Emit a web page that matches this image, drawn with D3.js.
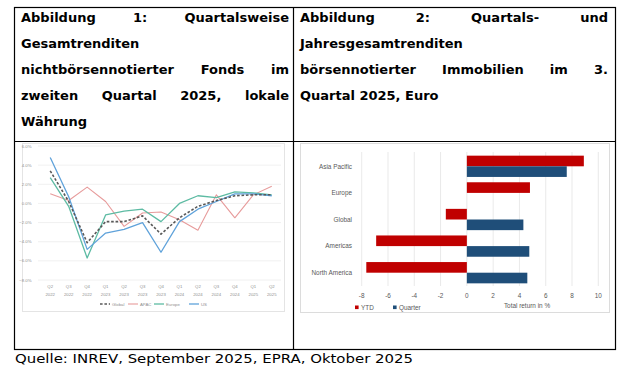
<!DOCTYPE html>
<html>
<head>
<meta charset="utf-8">
<script src="https://cdn.jsdelivr.net/npm/d3@7"></script>
<style>
    body { margin: 0; background: #fff; }
    svg { display: block; }
</style>
</head>
<body>
<svg id="page" width="633" height="371"></svg>
<script>
// figure 1: quarterly total returns, non-listed funds
const quarters = ["Q2 2022", "Q3 2022", "Q4 2022", "Q1 2023", "Q2 2023", "Q3 2023", "Q4 2023",
    "Q1 2024", "Q2 2024", "Q3 2024", "Q4 2024", "Q1 2025", "Q2 2025"];
const globalReturns = [3.4, 0.2, -4.1, -1.9, -1.9, -1.3, -3.2, -1.5, -0.3, 0.3, 0.8, 0.9, 0.9];
const apacReturns = [1.0, 0.3, 1.7, 0.2, -2.4, -1.0, -0.9, -1.7, -2.8, 0.9, -1.5, 0.9, 1.8];
const europeReturns = [2.7, -0.3, -5.7, -1.2, -0.8, -0.6, -1.9, 0.0, 0.8, 0.6, 1.2, 1.1, 0.9];
const usReturns = [4.8, 0.7, -4.8, -3.1, -2.7, -2.0, -5.1, -1.9, -0.6, 0.2, 1.0, 1.0, 0.8];
const percentTicks = [6, 4, 2, 0, -2, -4, -6, -8];

// figure 2: listed real estate, Q3 2025, EUR
const regions = ["Asia Pacific", "Europe", "Global", "Americas", "North America"];
const ytdReturns = [8.9, 4.8, -1.6, -6.9, -7.65];
const quarterReturns = [7.6, 0, 4.3, 4.75, 4.6];
const returnTicks = [-8, -6, -4, -2, 0, 2, 4, 6, 8, 10];

const titleLeft = [
    { words: ["Abbildung", "1:", "Quartalsweise"], justify: true },
    { words: ["Gesamtrenditen"], justify: false },
    { words: ["nichtbörsennotierter", "Fonds", "im"], justify: true },
    { words: ["zweiten", "Quartal", "2025,", "lokale"], justify: true },
    { words: ["Währung"], justify: false },
];
const titleRight = [
    { words: ["Abbildung", "2:", "Quartals-", "und"], justify: true },
    { words: ["Jahresgesamtrenditen"], justify: false },
    { words: ["börsennotierter", "Immobilien", "im", "3."], justify: true },
    { words: ["Quartal", "2025,", "Euro"], justify: false },
];
const sourceNote = "Quelle: INREV, September 2025, EPRA, Oktober 2025";

const svg = d3.select("#page");

// ---- table frame ----
const frame = svg.append("g")
    .attr("stroke", "#000")
    .attr("stroke-width", 1.2)
    .attr("fill", "none");
frame.append("rect").attr("x", 14.5).attr("y", 7.5).attr("width", 601).attr("height", 342);
frame.append("line").attr("x1", 293.5).attr("x2", 293.5).attr("y1", 7.5).attr("y2", 349.5);
frame.append("line").attr("x1", 14.5).attr("x2", 615.5).attr("y1", 141.5).attr("y2", 141.5);

function writeTitle (lines, x0, x1) {
    const g = svg.append("g")
        .attr("font-family", "DejaVu Sans")
        .attr("font-weight", "bold")
        .attr("font-size", 13)
        .attr("fill", "#000");

    lines.forEach((line, i) => {
        const y = 21.5 + i * 26.2;
        const nodes = line.words.map(w => g.append("text").attr("y", y).text(w));
        const widths = nodes.map(n => n.node().getComputedTextLength());
        const total = d3.sum(widths);
        let gap = 4.5;
        if (line.justify && nodes.length > 1)
            gap = (x1 - x0 - total) / (nodes.length - 1);
        let x = x0;
        nodes.forEach((n, k) => {
            n.attr("x", x);
            x += widths[k] + gap;
        });
    });
}

writeTitle(titleLeft, 21, 289);
writeTitle(titleRight, 300, 608);

svg.append("text")
    .attr("x", 15)
    .attr("y", 363)
    .attr("font-family", "DejaVu Sans")
    .attr("font-size", 12.5)
    .attr("textLength", 398)
    .attr("lengthAdjust", "spacingAndGlyphs")
    .attr("fill", "#000")
    .text(sourceNote);

// ---- figure 1: line chart ----
const lineChart = svg.append("g");

lineChart.append("rect")
    .attr("x", 22.5).attr("y", 143.5)
    .attr("width", 262).attr("height", 168)
    .attr("fill", "#fff")
    .attr("stroke", "#e4e4e4");

const x1 = d3.scalePoint()
    .domain(quarters)
    .range([41, 281])
    .padding(0.5);

const y1 = d3.scaleLinear()
    .domain([-8, 6])
    .range([280, 146]);

lineChart.append("g")
    .selectAll("line")
    .data(percentTicks)
    .join("line")
    .attr("x1", 38).attr("x2", 281)
    .attr("y1", d => y1(d)).attr("y2", d => y1(d))
    .attr("stroke", "#ececec")
    .attr("stroke-width", 0.8);

lineChart.append("g")
    .attr("font-family", "Liberation Sans")
    .attr("font-size", 4.3)
    .attr("fill", "#8f8f8f")
    .attr("text-anchor", "end")
    .selectAll("text")
    .data(percentTicks)
    .join("text")
    .attr("x", 31.5)
    .attr("y", d => y1(d) + 1.5)
    .text(d => d3.format(".1f")(d) + "%");

const qLabels = lineChart.append("g")
    .attr("font-family", "Liberation Sans")
    .attr("font-size", 4.3)
    .attr("fill", "#8f8f8f")
    .attr("text-anchor", "middle")
    .selectAll("text")
    .data(quarters)
    .join("text")
    .attr("x", d => x1(d));
qLabels.append("tspan").attr("x", d => x1(d)).attr("y", 287.5).text(d => d.split(" ")[0]);
qLabels.append("tspan").attr("x", d => x1(d)).attr("y", 295.5).text(d => d.split(" ")[1]);

const lineSeries = [
    { name: "Global", values: globalReturns, color: "#595959", dash: "2.6,1.8", width: 1.6 },
    { name: "APAC", values: apacReturns, color: "#e79b9b", dash: null, width: 1.1 },
    { name: "Europe", values: europeReturns, color: "#5dbba3", dash: null, width: 1.3 },
    { name: "US", values: usReturns, color: "#5fa2da", dash: null, width: 1.3 },
];

const line = d3.line()
    .x((d, i) => x1(quarters[i]))
    .y(d => y1(d));

// draw order: APAC under, then Europe, US, Global dashed on top
[lineSeries[1], lineSeries[2], lineSeries[3], lineSeries[0]].forEach(s => {
    lineChart.append("path")
        .datum(s.values)
        .attr("d", line)
        .attr("fill", "none")
        .attr("stroke", s.color)
        .attr("stroke-width", s.width)
        .attr("stroke-dasharray", s.dash)
        .attr("stroke-linejoin", "round");
});

const legendX = [100, 128, 154, 189];
const legend1 = lineChart.append("g")
    .attr("font-family", "Liberation Sans")
    .attr("font-size", 4.3)
    .attr("fill", "#8f8f8f");
lineSeries.forEach((s, i) => {
    legend1.append("line")
        .attr("x1", legendX[i]).attr("x2", legendX[i] + 10)
        .attr("y1", 304).attr("y2", 304)
        .attr("stroke", s.color)
        .attr("stroke-width", s.width)
        .attr("stroke-dasharray", s.dash);
    legend1.append("text")
        .attr("x", legendX[i] + 12)
        .attr("y", 305.5)
        .text(s.name);
});

// ---- figure 2: bar chart ----
const barChart = svg.append("g");

barChart.append("rect")
    .attr("x", 300.5).attr("y", 143.5)
    .attr("width", 309).attr("height", 169)
    .attr("fill", "#fff")
    .attr("stroke", "#dcdcdc");

const x2 = d3.scaleLinear()
    .domain([-8, 10])
    .range([361.7, 598.3]);

const y2 = d3.scaleBand()
    .domain(regions)
    .range([153, 286])
    .paddingInner(0.2)
    .paddingOuter(0.1);

const ySeries = d3.scaleBand()
    .domain(["YTD", "Quarter"])
    .range([0, y2.bandwidth()]);

barChart.append("g")
    .selectAll("line")
    .data(returnTicks)
    .join("line")
    .attr("x1", d => x2(d)).attr("x2", d => x2(d))
    .attr("y1", 152).attr("y2", 286)
    .attr("stroke", "#e3e3e3")
    .attr("stroke-width", 0.8);

const barData = regions.flatMap((r, i) => [
    { region: r, series: "YTD", value: ytdReturns[i] },
    { region: r, series: "Quarter", value: quarterReturns[i] },
]);

const barColor = d3.scaleOrdinal()
    .domain(["YTD", "Quarter"])
    .range(["#c00000", "#1f4e79"]);

barChart.append("g")
    .selectAll("rect")
    .data(barData.filter(d => d.value !== 0))
    .join("rect")
    .attr("x", d => x2(Math.min(0, d.value)))
    .attr("width", d => Math.abs(x2(d.value) - x2(0)))
    .attr("y", d => y2(d.region) + ySeries(d.series))
    .attr("height", ySeries.bandwidth())
    .attr("fill", d => barColor(d.series));

barChart.append("g")
    .attr("font-family", "Liberation Sans")
    .attr("font-size", 6.4)
    .attr("fill", "#595959")
    .attr("text-anchor", "end")
    .selectAll("text")
    .data(regions)
    .join("text")
    .attr("x", 352)
    .attr("y", d => y2(d) + y2.bandwidth() / 2 + 2.2)
    .text(d => d);

barChart.append("g")
    .attr("font-family", "Liberation Sans")
    .attr("font-size", 6.4)
    .attr("fill", "#595959")
    .attr("text-anchor", "middle")
    .selectAll("text")
    .data(returnTicks)
    .join("text")
    .attr("x", d => x2(d))
    .attr("y", 298)
    .text(d => d);

barChart.append("text")
    .attr("x", 527)
    .attr("y", 308)
    .attr("font-family", "Liberation Sans")
    .attr("font-size", 6.4)
    .attr("fill", "#595959")
    .attr("text-anchor", "middle")
    .text("Total return in %");

const legend2 = barChart.append("g")
    .attr("font-family", "Liberation Sans")
    .attr("font-size", 6.4)
    .attr("fill", "#595959");
[["YTD", 355], ["Quarter", 393]].forEach(([name, lx]) => {
    legend2.append("rect")
        .attr("x", lx).attr("y", 305.5)
        .attr("width", 3.6).attr("height", 3.6)
        .attr("fill", barColor(name));
    legend2.append("text")
        .attr("x", lx + 6)
        .attr("y", 309.5)
        .text(name);
});
</script>
</body>
</html>
